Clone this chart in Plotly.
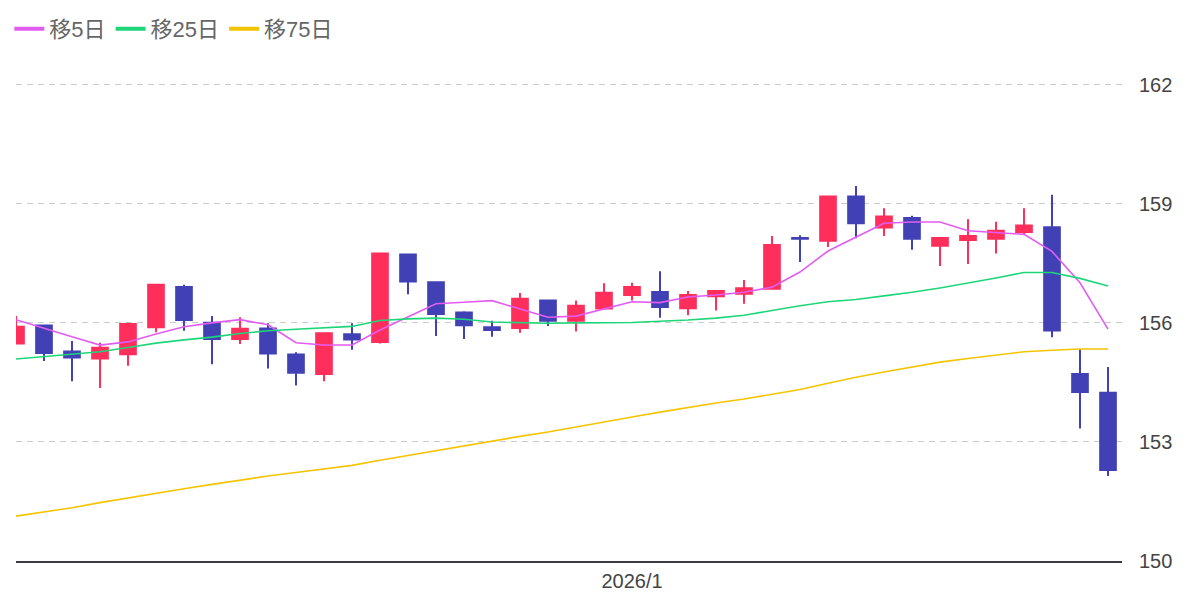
import plotly.graph_objects as go

# Candle colors
UP_COLOR = "#FF2E5A"
DOWN_COLOR = "#4141B5"

# MA line colors
MA_COLORS = {"移5日": "#E35CF2", "移25日": "#1ED67A", "移75日": "#F5C400"}

# Daily dates (2025/12 - 2026/1)
dates = [
    "2025-12-02", "2025-12-03", "2025-12-04", "2025-12-05", "2025-12-08",
    "2025-12-09", "2025-12-10", "2025-12-11", "2025-12-12", "2025-12-15",
    "2025-12-16", "2025-12-17", "2025-12-18", "2025-12-19", "2025-12-22",
    "2025-12-23", "2025-12-24", "2025-12-25", "2025-12-26", "2025-12-29",
    "2025-12-30", "2025-12-31", "2026-01-02", "2026-01-05", "2026-01-06",
    "2026-01-07", "2026-01-08", "2026-01-09", "2026-01-12", "2026-01-13",
    "2026-01-14", "2026-01-15", "2026-01-16", "2026-01-19", "2026-01-20",
    "2026-01-21", "2026-01-22", "2026-01-23", "2026-01-26", "2026-01-27",
]

opens = [
    155.48, 155.93, 155.28, 155.10, 155.21, 155.89, 156.90, 156.00, 155.59, 155.86,
    155.20, 154.71, 155.71, 155.52, 157.72, 157.02, 156.26, 155.89, 155.87, 156.56,
    156.05, 156.36, 156.70, 156.78, 156.37, 156.67, 156.73, 156.86, 158.14, 158.07,
    159.18, 158.40, 158.64, 157.94, 158.09, 158.12, 158.29, 158.41, 154.71, 154.24,
]
highs = [
    156.17, 155.94, 155.54, 155.50, 156.00, 156.97, 156.96, 156.17, 156.14, 155.99,
    155.26, 155.75, 155.99, 157.77, 157.74, 157.05, 156.29, 156.05, 156.75, 156.59,
    156.56, 157.00, 157.01, 157.30, 156.80, 156.81, 157.08, 158.19, 158.21, 159.20,
    159.45, 158.89, 158.70, 158.16, 158.61, 158.55, 158.89, 159.23, 155.33, 154.89,
]
lows = [
    155.47, 155.04, 154.53, 154.36, 154.92, 155.76, 155.80, 154.96, 155.47, 154.85,
    154.42, 154.53, 155.32, 155.48, 156.72, 155.67, 155.59, 155.65, 155.75, 155.92,
    155.78, 156.34, 156.56, 156.13, 156.19, 156.31, 156.48, 156.85, 157.53, 157.91,
    158.13, 158.19, 157.84, 157.43, 157.48, 157.75, 158.24, 155.64, 153.34, 152.14,
]
closes = [
    155.90, 155.24, 155.13, 155.37, 155.97, 156.96, 156.07, 155.59, 155.85, 155.23,
    154.74, 155.74, 155.58, 157.75, 157.04, 156.22, 155.94, 155.82, 156.61, 156.05,
    156.43, 156.76, 156.90, 156.40, 156.70, 156.80, 156.87, 157.96, 158.12, 159.18,
    158.51, 158.68, 158.12, 158.14, 158.19, 158.32, 158.45, 155.81, 154.26, 152.29,
]

# Moving averages as shown on the chart
ma5 = [
    156.08, 155.86, 155.65, 155.44, 155.52, 155.72, 155.90, 156.00, 156.08, 155.95,
    155.50, 155.44, 155.44, 155.82, 156.15, 156.48, 156.52, 156.56, 156.35, 156.14,
    156.17, 156.35, 156.53, 156.51, 156.65, 156.70, 156.77, 156.90, 157.28, 157.81,
    158.17, 158.51, 158.54, 158.54, 158.32, 158.28, 158.23, 157.80, 157.01, 155.84,
]
ma25 = [
    155.09, 155.15, 155.21, 155.27, 155.38, 155.49, 155.57, 155.64, 155.73, 155.80,
    155.84, 155.87, 155.91, 156.06, 156.10, 156.12, 156.09, 156.02, 156.00, 155.99,
    156.00, 156.00, 156.01, 156.04, 156.07, 156.12, 156.19, 156.31, 156.43, 156.53,
    156.59, 156.68, 156.77, 156.88, 157.00, 157.13, 157.27, 157.27, 157.12, 156.93,
]
ma75 = [
    151.13, 151.23, 151.34, 151.47, 151.59, 151.71, 151.82, 151.93, 152.04, 152.14,
    152.23, 152.32, 152.41, 152.54, 152.66, 152.79, 152.90, 153.02, 153.14, 153.25,
    153.38, 153.50, 153.63, 153.75, 153.87, 153.98, 154.08, 154.20, 154.32, 154.48,
    154.63, 154.76, 154.89, 155.01, 155.10, 155.19, 155.27, 155.31, 155.34, 155.34,
]

y_ticks = [150, 153, 156, 159, 162]
x_tick_dates = ["2026-01-02"]
x_tick_labels = ["2026/1"]

FONT = "Liberation Sans, Noto Sans CJK JP, sans-serif"

fig = go.Figure()

fig.add_trace(
    go.Candlestick(
        x=dates,
        open=opens,
        high=highs,
        low=lows,
        close=closes,
        increasing=dict(line=dict(color=UP_COLOR, width=2), fillcolor=UP_COLOR),
        decreasing=dict(line=dict(color=DOWN_COLOR, width=2), fillcolor=DOWN_COLOR),
        showlegend=False,
        hoverinfo="skip",
    )
)

# MA lines (thin), legend entries use thicker dummy lines
for name, values in [("移5日", ma5), ("移25日", ma25), ("移75日", ma75)]:
    fig.add_trace(
        go.Scatter(
            x=dates,
            y=values,
            mode="lines",
            name=name,
            legendgroup=name,
            line=dict(color=MA_COLORS[name], width=1.6),
            showlegend=False,
            hoverinfo="skip",
        )
    )
    fig.add_trace(
        go.Scatter(
            x=[None],
            y=[None],
            mode="lines",
            name=name,
            legendgroup=name,
            line=dict(color=MA_COLORS[name], width=4),
        )
    )

# page body has an 8px margin, so the figure is a bit smaller than the window
fig.update_layout(
    width=1192,
    height=594,
    margin=dict(l=8, r=78, t=37, b=41, autoexpand=False),
    paper_bgcolor="white",
    plot_bgcolor="white",
    font=dict(family=FONT, size=20, color="#444444"),
    boxgap=0.2,
    showlegend=True,
    legend=dict(
        orientation="h",
        x=-0.006,
        xanchor="left",
        y=1.031,
        yanchor="middle",
        font=dict(size=22, color="#666666"),
        bgcolor="rgba(0,0,0,0)",
        itemclick=False,
    ),
    xaxis=dict(
        type="category",
        range=[0, 39.5],
        rangeslider=dict(visible=False),
        showgrid=False,
        showline=True,
        linecolor="#3c3c46",
        linewidth=2,
        tickvals=x_tick_dates,
        ticktext=x_tick_labels,
        ticks="",
        ticklabelstandoff=1,
        tickfont=dict(size=20, color="#444444"),
    ),
    yaxis=dict(
        side="right",
        range=[150, 163],
        tickvals=y_ticks,
        showgrid=True,
        gridcolor="#cccccc",
        gridwidth=1,
        griddash="6px,5px",
        zeroline=False,
        showline=False,
        ticks="",
        ticklabelstandoff=16,
        tickfont=dict(size=20, color="#444444"),
    ),
)

fig.write_html("out.html")
